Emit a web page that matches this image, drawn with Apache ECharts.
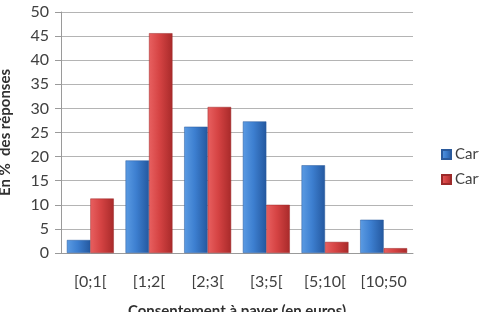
<!DOCTYPE html>
<html>
<head>
<meta charset="utf-8">
<script src="https://cdn.jsdelivr.net/npm/echarts@6/dist/echarts.min.js"></script>
<style>
  html, body { margin: 0; padding: 0; background: #fff; }
  #chart { width: 479px; height: 312px; }
</style>
</head>
<body>
<div id="chart"></div>
<script>
// classes de consentement à payer
const categories = ["[0;1[", "[1;2[", "[2;3[", "[3;5[", "[5;10[", "[10;50"];
const serieBleue = [2.7, 19.2, 26.2, 27.3, 18.2, 6.9];
const serieRouge = [11.3, 45.6, 30.3, 10.0, 2.3, 1.0];
const nomsSeries = ["Carte A", "Carte B"];

const chart = echarts.init(document.getElementById("chart"));

// dégradé horizontal pour l'effet "relief" des barres
function relief(clair, milieu, fonce) {
  return new echarts.graphic.LinearGradient(0, 0, 1, 0, [
    { offset: 0, color: clair },
    { offset: 0.45, color: milieu },
    { offset: 1, color: fonce }
  ]);
}

const option = {
  backgroundColor: "#fff",
  animation: false,
  textStyle: { fontFamily: "Lato, 'Open Sans', sans-serif" },
  grid: { left: 61, right: 66, top: 12, bottom: 59, outerBoundsMode: "none" },
  legend: {
    orient: "vertical",
    left: 436,
    top: 142,
    itemWidth: 9,
    itemHeight: 9,
    itemGap: 10,
    icon: "rect",
    textStyle: { color: "#404040", fontSize: 15, padding: [0, 0, 0, -1] },
    data: nomsSeries
  },
  xAxis: {
    type: "category",
    data: categories,
    name: "Consentement à payer (en euros)",
    nameLocation: "middle",
    nameGap: 51,
    nameTextStyle: { color: "#303030", fontSize: 15, fontWeight: "bold" },
    axisLine: { lineStyle: { color: "#9a9a9a" } },
    axisTick: { show: false },
    axisLabel: { color: "#404040", fontSize: 16, margin: 21, interval: 0 }
  },
  yAxis: {
    type: "value",
    min: 0,
    max: 50,
    interval: 5,
    name: "En %  des réponses",
    nameLocation: "middle",
    nameGap: 48,
    nameTextStyle: { color: "#303030", fontSize: 15, fontWeight: "bold" },
    axisLine: { show: true, lineStyle: { color: "#9a9a9a" } },
    axisTick: { show: true, length: 6, lineStyle: { color: "#9a9a9a" } },
    axisLabel: { color: "#404040", fontSize: 16, margin: 12 },
    splitLine: { lineStyle: { color: "#b4b4b4" } }
  },
  series: [
    {
      name: nomsSeries[0],
      type: "bar",
      data: serieBleue,
      barGap: "0%",
      barCategoryGap: "20%",
      itemStyle: {
        color: relief("#5b9be3", "#3d7fd0", "#24589f"),
        borderColor: "#2a5a9c",
        borderWidth: 0.5
      }
    },
    {
      name: nomsSeries[1],
      type: "bar",
      data: serieRouge,
      itemStyle: {
        color: relief("#e86060", "#d54343", "#a82a2a"),
        borderColor: "#9c2a2a",
        borderWidth: 0.5
      }
    }
  ]
};

chart.setOption(option);
</script>
</body>
</html>
